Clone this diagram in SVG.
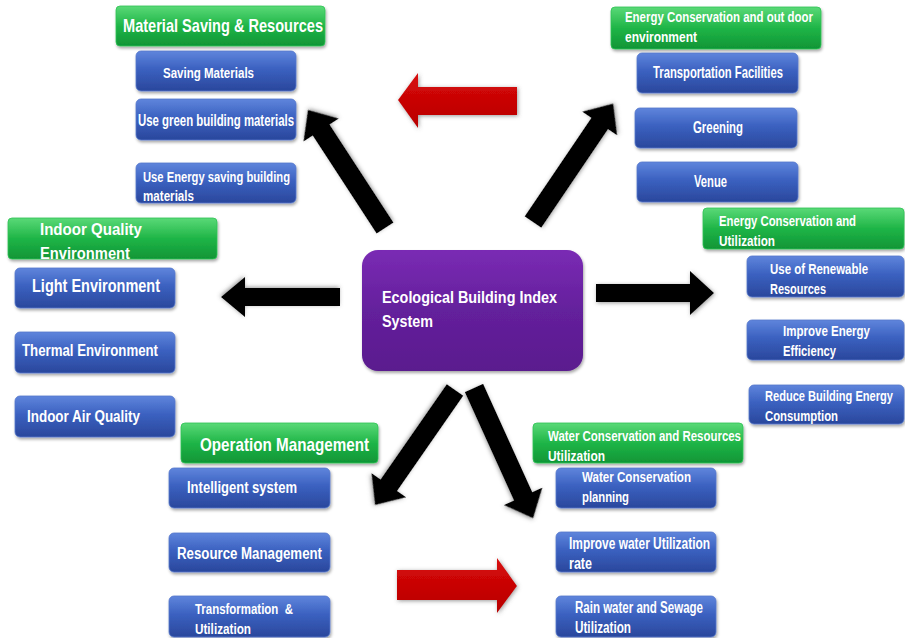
<svg xmlns="http://www.w3.org/2000/svg" width="905" height="638" viewBox="0 0 905 638">
<defs>
<linearGradient id="gBlue" x1="0" y1="0" x2="0" y2="1">
<stop offset="0" stop-color="#5f85dc"/><stop offset="0.45" stop-color="#3b61c0"/><stop offset="1" stop-color="#2a479c"/>
</linearGradient>
<linearGradient id="gGreen" x1="0" y1="0" x2="0" y2="1">
<stop offset="0" stop-color="#5ad977"/><stop offset="0.5" stop-color="#1fb547"/><stop offset="1" stop-color="#109536"/>
</linearGradient>
<linearGradient id="gPurple" x1="0" y1="0" x2="0" y2="1">
<stop offset="0" stop-color="#7a2bb4"/><stop offset="0.5" stop-color="#64209c"/><stop offset="1" stop-color="#5a1b8e"/>
</linearGradient>
<linearGradient id="gRed" x1="0" y1="0" x2="0" y2="1">
<stop offset="0" stop-color="#d80a0a"/><stop offset="1" stop-color="#b80000"/>
</linearGradient>
<filter id="sh" x="-20%" y="-20%" width="140%" height="150%">
<feDropShadow dx="1" dy="2" stdDeviation="1.5" flood-color="#000" flood-opacity="0.35"/>
</filter>
<filter id="ash" x="-30%" y="-30%" width="160%" height="160%">
<feDropShadow dx="1" dy="1" stdDeviation="2" flood-color="#555" flood-opacity="0.6"/>
</filter>
<style>
.b{fill:url(#gBlue);stroke:#5577cc;stroke-width:0.8;filter:url(#sh)}
.g{fill:url(#gGreen);stroke:#2ec455;stroke-width:0.8;filter:url(#sh)}
.p{fill:url(#gPurple);filter:url(#sh)}
text{font-family:"Liberation Sans",Arial,sans-serif;font-weight:bold;fill:#fff}
.s14{font-size:14px}
.s15{font-size:15px}
.s16{font-size:16px}
.s17{font-size:17px}
.s18{font-size:18px}
.s19{font-size:19px}
.ab{fill:#000;filter:url(#ash)}
.ar{fill:url(#gRed);filter:url(#ash)}
</style>
</defs>

<g id="connectors">
<polygon class="ab" transform="translate(385,228) rotate(-123.1)" points="0,-10 117,-10 117,-21 141,0 117,21 117,10 0,10"/>
<polygon class="ab" transform="translate(533,222) rotate(-55.9)" points="0,-10 119,-10 119,-21 143,0 119,21 119,10 0,10"/>
<polygon class="ab" transform="translate(340,297) rotate(180)" points="0,-9 95,-9 95,-20 119,0 95,20 95,9 0,9"/>
<polygon class="ab" transform="translate(596,293)" points="0,-9 94,-9 94,-22 118,0 94,22 94,9 0,9"/>
<polygon class="ab" transform="translate(455,390) rotate(124.8)" points="0,-10 116,-10 116,-21 140,0 116,21 116,10 0,10"/>
<polygon class="ab" transform="translate(474,388) rotate(65.6)" points="0,-10 119,-10 119,-21 143,0 119,21 119,10 0,10"/>
<polygon class="ar" points="517,87 418,87 418,73 398,100 418,128 418,115 517,115"/>
<polygon class="ar" points="397,570 497,570 497,558 517,586 497,613 497,600 397,600"/>
</g>

<g id="center">
<rect class="p" x="362" y="250" width="221" height="121" rx="16"/>
<text class="s17" x="382" y="303" textLength="175" lengthAdjust="spacingAndGlyphs">Ecological Building Index</text>
<text class="s17" x="382" y="327" textLength="51" lengthAdjust="spacingAndGlyphs">System</text>
</g>

<g id="material-header">
<rect class="g" x="116" y="6" width="209" height="40" rx="4"/>
<text class="s19" x="123" y="32" textLength="200" lengthAdjust="spacingAndGlyphs">Material Saving &amp; Resources</text>
</g>
<g id="saving-materials">
<rect class="b" x="136" y="51" width="160" height="40" rx="5"/>
<text class="s15" x="163" y="78" textLength="91" lengthAdjust="spacingAndGlyphs">Saving Materials</text>
</g>
<g id="green-materials">
<rect class="b" x="136" y="99" width="160" height="41" rx="5"/>
<text class="s16" x="138" y="126" textLength="156" lengthAdjust="spacingAndGlyphs">Use green building materials</text>
</g>
<g id="energy-saving-materials">
<rect class="b" x="136" y="163" width="160" height="40" rx="5"/>
<text class="s15" x="143" y="182" textLength="147" lengthAdjust="spacingAndGlyphs">Use Energy saving building</text>
<text class="s15" x="143" y="201" textLength="51" lengthAdjust="spacingAndGlyphs">materials</text>
</g>

<g id="outdoor-header">
<rect class="g" x="611" y="7" width="210" height="42" rx="4"/>
<text class="s14" x="625" y="22" textLength="188" lengthAdjust="spacingAndGlyphs">Energy Conservation and out door</text>
<text class="s14" x="625" y="42" textLength="72" lengthAdjust="spacingAndGlyphs">environment</text>
</g>
<g id="transportation">
<rect class="b" x="637" y="53" width="161" height="40" rx="5"/>
<text class="s17" x="653" y="78" textLength="130" lengthAdjust="spacingAndGlyphs">Transportation Facilities</text>
</g>
<g id="greening">
<rect class="b" x="635" y="108" width="162" height="40" rx="5"/>
<text class="s16" x="693" y="133" textLength="50" lengthAdjust="spacingAndGlyphs">Greening</text>
</g>
<g id="venue">
<rect class="b" x="637" y="162" width="161" height="40" rx="5"/>
<text class="s16" x="694" y="187" textLength="33" lengthAdjust="spacingAndGlyphs">Venue</text>
</g>

<g id="indoor-header">
<rect class="g" x="8" y="218" width="209" height="41" rx="4"/>
<text class="s17" x="40" y="235" textLength="102" lengthAdjust="spacingAndGlyphs">Indoor Quality</text>
<text class="s17" x="40" y="259" textLength="90" lengthAdjust="spacingAndGlyphs">Environment</text>
</g>
<g id="light">
<rect class="b" x="15" y="268" width="160" height="40" rx="5"/>
<text class="s19" x="32" y="292" textLength="128" lengthAdjust="spacingAndGlyphs">Light Environment</text>
</g>
<g id="thermal">
<rect class="b" x="15" y="332" width="160" height="41" rx="5"/>
<text class="s17" x="22" y="356" textLength="136" lengthAdjust="spacingAndGlyphs">Thermal Environment</text>
</g>
<g id="air">
<rect class="b" x="15" y="396" width="160" height="41" rx="5"/>
<text class="s17" x="27" y="422" textLength="113" lengthAdjust="spacingAndGlyphs">Indoor Air Quality</text>
</g>

<g id="utilization-header">
<rect class="g" x="703" y="208" width="201" height="41" rx="4"/>
<text class="s15" x="719" y="226" textLength="137" lengthAdjust="spacingAndGlyphs">Energy Conservation and</text>
<text class="s15" x="719" y="246" textLength="56" lengthAdjust="spacingAndGlyphs">Utilization</text>
</g>
<g id="renewable">
<rect class="b" x="747" y="256" width="157" height="41" rx="5"/>
<text class="s15" x="770" y="274" textLength="98" lengthAdjust="spacingAndGlyphs">Use of Renewable</text>
<text class="s15" x="770" y="294" textLength="56" lengthAdjust="spacingAndGlyphs">Resources</text>
</g>
<g id="efficiency">
<rect class="b" x="747" y="320" width="157" height="40" rx="5"/>
<text class="s15" x="783" y="336" textLength="87" lengthAdjust="spacingAndGlyphs">Improve Energy</text>
<text class="s15" x="783" y="356" textLength="53" lengthAdjust="spacingAndGlyphs">Efficiency</text>
</g>
<g id="reduce">
<rect class="b" x="749" y="385" width="155" height="39" rx="5"/>
<text class="s15" x="765" y="401" textLength="128" lengthAdjust="spacingAndGlyphs">Reduce Building Energy</text>
<text class="s15" x="765" y="421" textLength="73" lengthAdjust="spacingAndGlyphs">Consumption</text>
</g>

<g id="operation-header">
<rect class="g" x="181" y="423" width="197" height="40" rx="4"/>
<text class="s19" x="200" y="451" textLength="169" lengthAdjust="spacingAndGlyphs">Operation Management</text>
</g>
<g id="intelligent">
<rect class="b" x="169" y="468" width="161" height="40" rx="5"/>
<text class="s16" x="187" y="493" textLength="110" lengthAdjust="spacingAndGlyphs">Intelligent system</text>
</g>
<g id="resource-management">
<rect class="b" x="169" y="533" width="161" height="39" rx="5"/>
<text class="s16" x="177" y="559" textLength="145" lengthAdjust="spacingAndGlyphs">Resource Management</text>
</g>
<g id="transformation">
<rect class="b" x="169" y="596" width="161" height="41" rx="5"/>
<text class="s15" x="195" y="614" textLength="98" lengthAdjust="spacingAndGlyphs" xml:space="preserve">Transformation  &amp;</text>
<text class="s15" x="195" y="634" textLength="56" lengthAdjust="spacingAndGlyphs">Utilization</text>
</g>

<g id="water-header">
<rect class="g" x="533" y="423" width="210" height="40" rx="4"/>
<text class="s14" x="548" y="441" textLength="193" lengthAdjust="spacingAndGlyphs">Water Conservation and Resources</text>
<text class="s14" x="548" y="461" textLength="57" lengthAdjust="spacingAndGlyphs">Utilization</text>
</g>
<g id="water-planning">
<rect class="b" x="556" y="468" width="160" height="40" rx="5"/>
<text class="s15" x="582" y="482" textLength="109" lengthAdjust="spacingAndGlyphs">Water Conservation</text>
<text class="s15" x="582" y="502" textLength="47" lengthAdjust="spacingAndGlyphs">planning</text>
</g>
<g id="water-rate">
<rect class="b" x="556" y="532" width="160" height="40" rx="5"/>
<text class="s16" x="569" y="549" textLength="141" lengthAdjust="spacingAndGlyphs">Improve water Utilization</text>
<text class="s16" x="569" y="569" textLength="23" lengthAdjust="spacingAndGlyphs">rate</text>
</g>
<g id="rain-water">
<rect class="b" x="556" y="596" width="160" height="41" rx="5"/>
<text class="s16" x="575" y="613" textLength="128" lengthAdjust="spacingAndGlyphs">Rain water and Sewage</text>
<text class="s16" x="575" y="633" textLength="56" lengthAdjust="spacingAndGlyphs">Utilization</text>
</g>
</svg>
